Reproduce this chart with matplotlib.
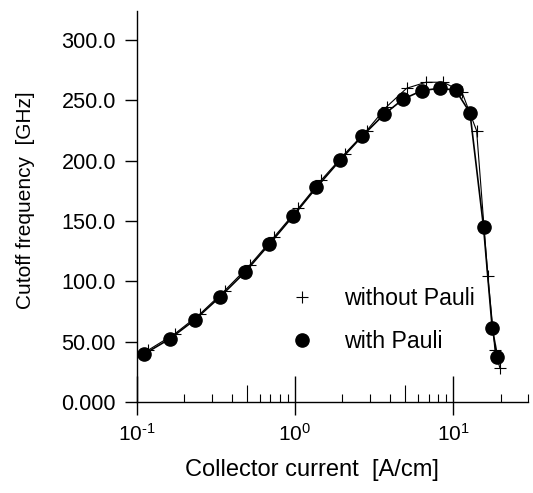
import matplotlib
matplotlib.use("Agg")
import matplotlib.pyplot as plt
from matplotlib.lines import Line2D
from matplotlib.ticker import FixedLocator, FixedFormatter, LogLocator, NullFormatter

plt.rcParams['font.family'] = ['Liberation Sans', 'DejaVu Sans']
plt.rcParams['mathtext.fontset'] = 'custom'
plt.rcParams['mathtext.rm'] = 'Liberation Sans'
plt.rcParams['mathtext.it'] = 'Liberation Sans'

# collector current [A/cm] and cutoff frequency [GHz]
current_pauli = [0.111, 0.162, 0.233, 0.335, 0.483, 0.688, 0.976, 1.37, 1.93, 2.67,
                 3.66, 4.85, 6.37, 8.27, 10.4, 12.8, 15.6, 17.7, 19.1]
ft_pauli = [39.6, 52.4, 68.1, 86.9, 107.5, 130.6, 154.2, 177.8, 200.3, 220.4,
            238.3, 251.1, 258.1, 260.0, 258.4, 239.7, 144.7, 61.1, 37.5]

current_nopauli = [0.118, 0.174, 0.250, 0.360, 0.519, 0.736, 1.05, 1.47, 2.07, 2.84,
                   3.80, 5.09, 6.75, 8.68, 11.35, 14.1, 16.6, 18.4, 19.8]
ft_nopauli = [42.9, 56.5, 72.7, 92.3, 113.5, 136.5, 160.4, 184.0, 205.8, 224.8,
              244.6, 260.0, 265.0, 265.0, 257.3, 224.8, 104.5, 43.4, 28.0]

y_ticks = [0, 50, 100, 150, 200, 250, 300]
y_tick_labels = ["0.000", "50.00", "100.0", "150.0", "200.0", "250.0", "300.0"]
x_ticks = [0.1, 1, 10]
x_tick_labels = [r"$10^{\text{-}1}$", r"$10^{0}$", r"$10^{1}$"]
x_mid_ticks = [0.5, 5]

fig = plt.figure(figsize=(5.33, 4.93), dpi=100)
ax = fig.add_axes([0.2565, 0.1846, 0.735, 0.793])

ax.plot(current_nopauli, ft_nopauli, color='black', lw=0.8,
        marker='+', ms=9, mew=0.8)
ax.plot(current_pauli, ft_pauli, color='black', lw=1.2,
        marker='o', ms=9.5, mec='black', mfc='black')

ax.set_xscale('log')
ax.set_xlim(0.1, 30)
ax.set_ylim(0, 324)

for s in ['top', 'right']:
    ax.spines[s].set_visible(False)
for s in ['left', 'bottom']:
    ax.spines[s].set_linewidth(1.0)

ax.yaxis.set_major_locator(FixedLocator(y_ticks))
ax.yaxis.set_major_formatter(FixedFormatter(y_tick_labels))
ax.tick_params(axis='y', direction='out', length=9, width=1.0, pad=6, labelsize=15.6)

# x ticks point into the plot; decades also cross below the axis
ax.xaxis.set_major_locator(FixedLocator(x_ticks))
ax.xaxis.set_minor_locator(LogLocator(base=10, subs=(2, 3, 4, 6, 7, 8, 9), numticks=10))
ax.xaxis.set_minor_formatter(NullFormatter())
ax.tick_params(axis='x', which='major', direction='in', length=19, width=1.0, labelbottom=False)
ax.tick_params(axis='x', which='minor', direction='in', length=6, width=0.8)

sec = ax.secondary_xaxis('bottom')
sec.spines['bottom'].set_visible(False)
sec.xaxis.set_major_locator(FixedLocator(x_ticks))
sec.xaxis.set_major_formatter(FixedFormatter(x_tick_labels))
sec.xaxis.set_minor_locator(FixedLocator(x_mid_ticks))
sec.xaxis.set_minor_formatter(NullFormatter())
sec.tick_params(axis='x', which='major', direction='out', length=9, width=1.0, pad=6, labelsize=15)
sec.tick_params(axis='x', which='minor', direction='in', length=12.5, width=0.8)

ax.set_ylabel("Cutoff frequency  [GHz]", fontsize=15)
ax.yaxis.set_label_coords(-0.26, 0.515)
ax.set_xlabel("Collector current  [A/cm]", fontsize=17)
ax.xaxis.set_label_coords(0.447, -0.145)

handles = [Line2D([], [], ls='none', marker='+', ms=9, mew=0.8, color='black'),
           Line2D([], [], ls='none', marker='o', ms=9.5, color='black')]
ax.legend(handles, ["without Pauli", "with Pauli"], loc='center left',
          bbox_to_anchor=(0.338, 0.21), frameon=False, fontsize=16.7,
          handlelength=1.0, handletextpad=1.34, labelspacing=0.84)

fig.savefig("out.png", dpi=100)
